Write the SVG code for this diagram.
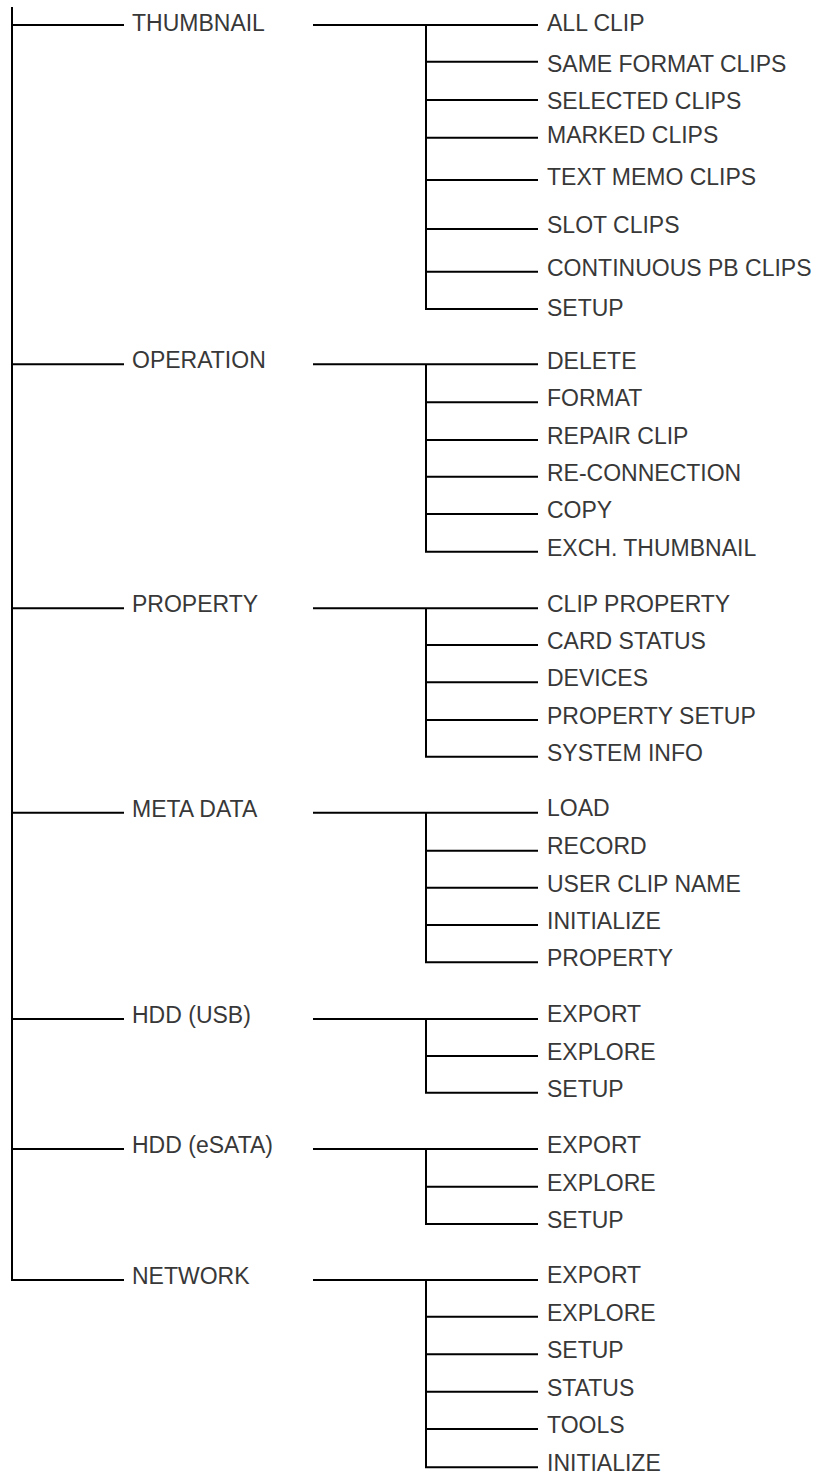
<svg xmlns="http://www.w3.org/2000/svg" width="820" height="1474" viewBox="0 0 820 1474">
<style>
.c{fill:none;stroke:#000;stroke-width:2}
text{font-family:"Liberation Sans",Arial,Helvetica,sans-serif;font-size:23px;fill:#383838}
</style>
<rect width="820" height="1474" fill="#fff"/>
<g id="connectors" class="c">
<path d="M12 7V1280H124"/>
<path d="M12 25H124M12 364.3H124M12 608.3H124M12 812.7H124M12 1019H124M12 1149H124"/>
<path d="M313 25H538M426 25V309H538M426 61.7H538M426 100H538M426 137.7H538M426 180H538M426 229H538M426 271.7H538"/>
<path d="M313 364.3H538M426 364.3V551.7H538M426 402.3H538M426 440H538M426 476.7H538M426 514H538"/>
<path d="M313 608.3H538M426 608.3V756.7H538M426 645H538M426 682.3H538M426 720H538"/>
<path d="M313 812.7H538M426 812.7V962.3H538M426 850.7H538M426 887.7H538M426 925H538"/>
<path d="M313 1019H538M426 1019V1092.7H538M426 1056H538"/>
<path d="M313 1149H538M426 1149V1224H538M426 1186.7H538"/>
<path d="M313 1280H538M426 1280V1467.3H538M426 1316.7H538M426 1354.3H538M426 1391.7H538M426 1429H538"/>
</g>
<g id="thumbnail"><text x="132" y="30.5">THUMBNAIL</text>
<g id="thumbnail-items">
<text x="547" y="30.7">ALL CLIP</text>
<text x="547" y="71.7">SAME FORMAT CLIPS</text>
<text x="547" y="109.3">SELECTED CLIPS</text>
<text x="547" y="142.7">MARKED CLIPS</text>
<text x="547" y="185">TEXT MEMO CLIPS</text>
<text x="547" y="232.7">SLOT CLIPS</text>
<text x="547" y="276">CONTINUOUS PB CLIPS</text>
<text x="547" y="316">SETUP</text>
</g></g>
<g id="operation"><text x="132" y="368.3">OPERATION</text>
<g id="operation-items">
<text x="547" y="369">DELETE</text>
<text x="547" y="406">FORMAT</text>
<text x="547" y="444">REPAIR CLIP</text>
<text x="547" y="481">RE-CONNECTION</text>
<text x="547" y="518">COPY</text>
<text x="547" y="555.7">EXCH. THUMBNAIL</text>
</g></g>
<g id="property"><text x="132" y="612.3">PROPERTY</text>
<g id="property-items">
<text x="547" y="612.3">CLIP PROPERTY</text>
<text x="547" y="649">CARD STATUS</text>
<text x="547" y="685.7">DEVICES</text>
<text x="547" y="724">PROPERTY SETUP</text>
<text x="547" y="760.7">SYSTEM INFO</text>
</g></g>
<g id="metadata"><text x="132" y="816.5">META DATA</text>
<g id="metadata-items">
<text x="547" y="816">LOAD</text>
<text x="547" y="854">RECORD</text>
<text x="547" y="891.7">USER CLIP NAME</text>
<text x="547" y="929">INITIALIZE</text>
<text x="547" y="965.7">PROPERTY</text>
</g></g>
<g id="hdd-usb"><text x="132" y="1022.8">HDD (USB)</text>
<g id="hdd-usb-items">
<text x="547" y="1022.3">EXPORT</text>
<text x="547" y="1060">EXPLORE</text>
<text x="547" y="1096.7">SETUP</text>
</g></g>
<g id="hdd-esata"><text x="132" y="1152.8">HDD (eSATA)</text>
<g id="hdd-esata-items">
<text x="547" y="1152.7">EXPORT</text>
<text x="547" y="1190.7">EXPLORE</text>
<text x="547" y="1228.3">SETUP</text>
</g></g>
<g id="network"><text x="132" y="1284">NETWORK</text>
<g id="network-items">
<text x="547" y="1283.3">EXPORT</text>
<text x="547" y="1321">EXPLORE</text>
<text x="547" y="1358.3">SETUP</text>
<text x="547" y="1396">STATUS</text>
<text x="547" y="1433.3">TOOLS</text>
<text x="547" y="1470.7">INITIALIZE</text>
</g></g>
</svg>
